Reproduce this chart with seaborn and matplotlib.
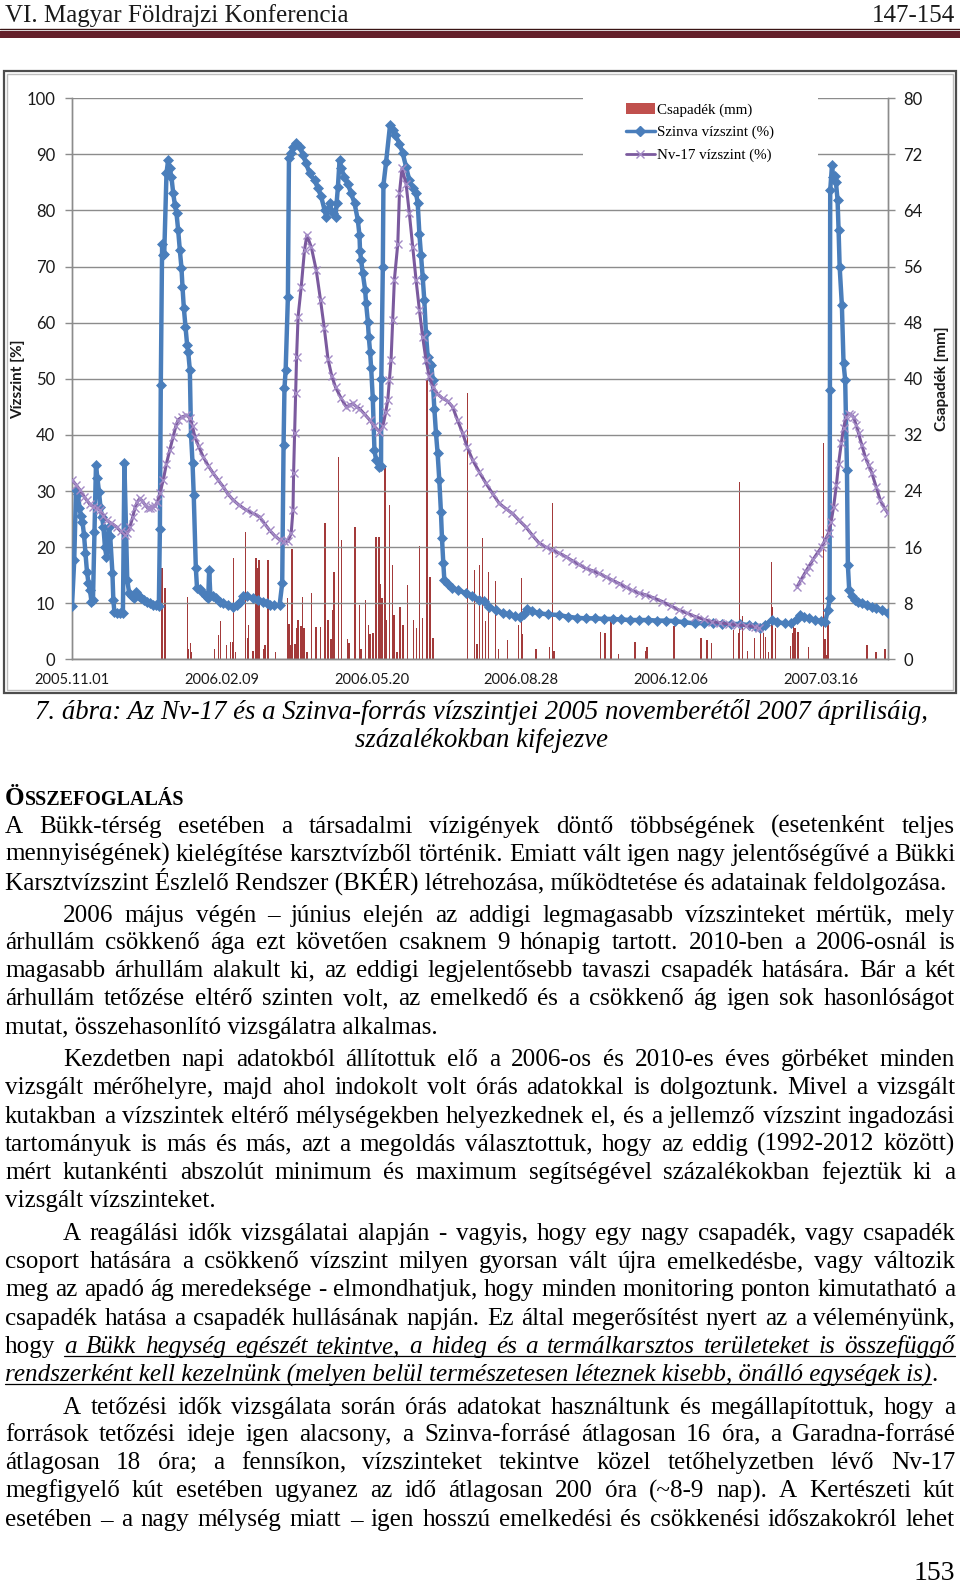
import numpy as np
import pandas as pd
import matplotlib
matplotlib.use("Agg")
import matplotlib.pyplot as plt
import seaborn as sns
from matplotlib.patches import Rectangle, Patch
from matplotlib.lines import Line2D

# ---------------- data (days since 2005.11.01) ----------------
szinva_day = [0, 1.5, 2.7, 4, 5, 6, 7, 8, 9, 10,
              11, 12, 13, 14, 15, 16, 17, 18, 19, 20,
              21, 22, 23, 24.5, 25.5, 27, 27.6, 28.3, 30, 32,
              34, 35, 36.9, 38.2, 40, 41.5, 43, 44.5, 46, 48,
              50, 52, 54, 56, 58, 58.7, 59.3, 60.2, 60.8, 61.6,
              63.1, 64.2, 65.3, 66.4, 67.6, 68.7, 69.8, 70.9, 72, 73.1,
              73.8, 74.7, 75.8, 76.9, 77.6, 78.7, 79.5, 80.5, 81.3, 82.7,
              83.5, 85.3, 87, 89.8, 91, 91.6, 92.4, 94, 96.4, 99,
              101, 104, 107.6, 110, 112, 114.2, 117, 120.9, 124, 127.6,
              130, 132, 135, 138.7, 140.4, 141.3, 141.9, 142.7, 144.2, 144.9,
              146.2, 147.6, 149.8, 152, 154.2, 156.4, 158.7, 162, 164.2, 166.4,
              168.7, 169.8, 172, 174.2, 176, 176.7, 177.6, 178.7, 179.8, 182,
              184.2, 186.4, 188.7, 190.9, 192, 192.4, 193.1, 194.2, 195.8, 196.4,
              197.6, 198.2, 199.1, 199.8, 200.9, 202, 203.1, 204.9, 206.4, 206.6,
              207.6, 208, 209.8, 212.4, 214.2, 216, 218.7, 220.9, 223.1, 225.3,
              227.6, 229.8, 230.9, 232, 233.1, 234.2, 235.3, 236.4, 237.6, 238.7,
              240, 240.9, 242, 243.1, 244.2, 245.3, 246.4, 247.1, 248, 248.7,
              251, 254, 258, 263, 267, 272, 275, 278.7, 283, 287.6,
              292, 296, 299, 302, 304.2, 307, 312, 318, 325, 331,
              337, 343, 349, 355, 361, 367, 373, 379, 385, 391,
              397, 403, 409, 416, 422, 428, 434, 440, 446, 452,
              456, 459.8, 463, 467.6, 471, 476.4, 480, 484, 486.4, 489,
              492, 496, 500, 503.1, 504.9, 506, 506.2, 506.4, 507.6, 508.4,
              509.3, 510.2, 511.3, 512, 512.7, 514.2, 515.3, 516.4, 517.6, 518.2,
              519.1, 521, 523.1, 525, 527.6, 531, 534.2, 537, 540.9, 545]
szinva_val = [9.5, 17.7, 30.2, 29.5, 27, 25.5, 24.5, 22.2, 19, 15.6,
              13.6, 12.3, 10.3, 10.5, 22.7, 34.6, 32.3, 29.9, 27.2, 25.4,
              23.6, 20, 18.3, 23.6, 22, 15.4, 10.6, 8.5, 8.3, 8.2,
              8.3, 35, 14.1, 11.8, 11.3, 11, 12, 11.3, 11, 10.5,
              10.3, 10, 9.7, 9.6, 9.5, 23.2, 48.9, 74.1, 72, 72.2,
              86.6, 89, 87.5, 86, 83.1, 81, 79.5, 76.5, 73, 69.8,
              66.4, 62.6, 59.3, 56, 54.8, 51.6, 40, 35, 29.3, 16.3,
              12.7, 12.5, 12, 11.2, 11, 15.9, 11.5, 11.2, 10.9, 10.3,
              10, 9.6, 9.4, 9.6, 10.3, 11.2, 11.2, 10.9, 10.6, 10.3,
              10, 9.7, 9.6, 9.7, 13.6, 38.2, 48.3, 51.6, 64.6, 89.3,
              90.2, 91.4, 92, 91.4, 89.9, 88.4, 86.6, 85.4, 84, 82.5,
              80.1, 78.9, 81.3, 79.5, 78.9, 81.3, 84.2, 89, 87.5, 86,
              84.8, 83.1, 81.3, 78.3, 75.6, 72.7, 71.2, 68.8, 65.8, 63.5,
              60.2, 57.5, 54.8, 51.9, 46.5, 37.3, 35.5, 34.2, 34.5, 50,
              70, 84.5, 88.7, 95.2, 94.3, 93.5, 91.9, 90.2, 87.8, 85.4,
              84, 83.1, 81.3, 75.9, 72.1, 68.2, 64, 58.1, 53.9, 52.8,
              52.5, 49.8, 44.7, 40.3, 36.7, 32, 26.3, 21.6, 17.1, 14.1,
              13.4, 12.7, 12.3, 11.8, 11.2, 10.6, 10.4, 9.4, 8.8, 8.2,
              8, 7.7, 7.6, 8, 8.9, 8.6, 8.2, 8, 7.9, 7.6,
              7.4, 7.3, 7.3, 7.2, 7.2, 7.1, 7, 7, 7, 6.9,
              6.9, 6.8, 6.6, 6.4, 6.5, 6.4, 6.3, 6.3, 6.3, 6.1,
              5.9, 5.6, 6.2, 7, 6.6, 6.4, 6.4, 7.2, 7.9, 7.6,
              7.3, 7, 6.8, 6.7, 8.8, 10.9, 48, 83.6, 88.1, 86,
              86.1, 85.1, 81.9, 76.5, 70, 63.1, 52.8, 49.8, 33.7, 16.8,
              12.3, 11.2, 10.6, 10.3, 10, 9.7, 9.4, 9.1, 8.8, 8.2]

nv17_day = [0, 3, 5.3, 8, 9.8, 12, 14.2, 16.5, 18.7, 21,
            23.1, 26, 29.8, 32.5, 35.3, 37, 38.7, 40.5, 42, 43.5,
            45.3, 47, 48.9, 50.5, 52, 53.7, 55.3, 57, 58.7, 61,
            63.1, 65.3, 67.6, 69.3, 70.9, 73.5, 76.4, 78.7, 80.5, 82,
            84.5, 87.6, 91, 94.2, 97.5, 100.9, 104, 107.6, 111.5, 116.4,
            121, 125.3, 128.5, 132, 135.5, 138.7, 141.5, 144.2, 146.4, 147.6,
            148, 148.7, 149.4, 150, 151, 153.1, 155.3, 156.9, 159.8, 163.1,
            166, 168.5, 171, 173.5, 176, 179.8, 183.1, 185.5, 187.6, 190,
            192, 195, 198.7, 202, 205.3, 207.6, 209.5, 210.9, 212, 213.1,
            214.2, 215.3, 217.6, 218.7, 220.4, 223.1, 225.3, 227.6, 229.8, 232,
            234.2, 236.4, 238.5, 240.9, 244, 247.6, 251, 254.2, 257.5, 260.9,
            264, 267.6, 272, 276.4, 281, 285.3, 290, 294.2, 298.5, 303.1,
            307.5, 312, 316.5, 320.9, 325.5, 329.8, 334, 338.5, 343.1, 347.5,
            352, 356.5, 360.9, 365.5, 369.8, 374, 378.7, 383, 388, 394.2,
            400, 405.3, 411, 416.4, 422, 427.6, 433, 438.7, 444, 450,
            456.4, 459, 470, 484.2, 487, 490, 492, 495, 498, 500.9,
            503, 505.3, 507, 508.7, 510.5, 512, 513.8, 515.3, 517, 518.7,
            520.5, 522, 523.7, 525.3, 527.5, 529.8, 532, 534.2, 537, 539.8,
            542.5, 545]
nv17_val = [32, 31, 30.2, 29, 28.4, 27.6, 27.2, 27, 26.6, 25.6,
            24.8, 24.3, 23.6, 22.8, 22.2, 22.6, 23.6, 25.3, 26.9, 28,
            28.7, 28.2, 27.5, 27, 27, 27.1, 27.3, 28, 29.6, 32,
            34.9, 37.3, 39.7, 41.5, 42.7, 43.2, 43.5, 43, 41.5, 39.7,
            38, 36.1, 34.5, 33.2, 32, 30.8, 29.5, 28.4, 27.5, 26.6,
            26, 25.4, 24.2, 23, 22, 21.3, 21, 21, 22.5, 26.6,
            33.2, 40.3, 47.4, 53.9, 61.1, 66.4, 73, 75.6, 73.5, 69.4,
            64, 59, 53.5, 50.5, 48.5, 46.5, 45, 45.3, 45.6, 45,
            44.7, 43.8, 42.7, 41.5, 40.6, 41.5, 44, 46.2, 49.8, 53.4,
            60.5, 67.6, 74.1, 83.1, 87.5, 84.8, 79.5, 73.5, 67.6, 62.3,
            57.5, 53.4, 50.5, 48.6, 47.3, 46.5, 46, 45, 42.6, 40.3,
            37.8, 35.5, 33.4, 31.4, 29.5, 27.8, 26.8, 26, 24.8, 23.6,
            22.1, 20.7, 20, 19.5, 18.9, 18.3, 17.6, 16.9, 16.2, 15.8,
            15.3, 14.7, 14.1, 13.5, 12.9, 12.3, 11.8, 11.5, 11, 10.3,
            9.5, 8.8, 8.2, 7.6, 7.1, 6.7, 6.5, 6.3, 6.1, 6,
            5.8, 5.6, np.nan, 12.9, 14.2, 15.6, 16.5, 17.8, 19, 20.1,
            21.3, 22.5, 24.5, 27.2, 31, 34.9, 38.5, 41.2, 43.2, 43.8,
            43.6, 43.2, 41.8, 40.3, 38.2, 36.1, 34.6, 33.2, 30.8, 28.4,
            27, 26]

rain_day = [60, 62, 77, 78, 79, 80, 95, 98, 99, 103,
            106, 107, 108, 109, 116, 117, 118, 121, 123, 124,
            125, 128, 129, 131, 136, 144, 145, 146, 147, 149,
            150, 151, 153, 154, 155, 157, 160, 163, 166, 169,
            171, 173, 174, 175, 178, 180, 184, 185, 189, 192,
            193, 196, 198, 199, 201, 203, 205, 206, 207, 209,
            210, 212, 214, 215, 217, 219, 221, 224, 228, 230,
            232, 234, 237, 239, 241, 264, 269, 270, 271, 272,
            274, 276, 278, 283, 285, 291, 298, 300, 301, 310,
            319, 321, 322, 353, 356, 360, 365, 376, 383, 384,
            402, 420, 424, 427, 442, 445, 446, 448, 451, 456,
            460, 462, 463, 465, 467, 468, 470, 480, 481, 482,
            483, 485, 492, 502, 503, 504, 505, 531, 537, 543]
rain_mm = [13.0, 10.1, 8.9, 1.5, 2.3, 1.0, 1.5, 3.5, 5.4, 2.0,
           2.5, 2.5, 14.4, 1.0, 18.2, 3.0, 4.9, 1.2, 14.4, 13.0,
           14.2, 1.5, 2.0, 14.2, 1.0, 8.7, 5.1, 2.0, 15.8, 2.2,
           4.4, 5.6, 4.8, 8.9, 4.4, 1.0, 9.4, 4.6, 4.6, 19.5,
           5.6, 2.9, 7.0, 12.5, 28.9, 17.0, 2.9, 2.3, 18.9, 7.7,
           1.5, 8.5, 4.9, 3.6, 3.8, 17.5, 17.5, 10.8, 8.7, 27.5,
           5.6, 22.0, 13.4, 6.3, 1.0, 7.5, 4.9, 10.6, 5.6, 4.4,
           16.1, 5.9, 39.8, 11.8, 3.1, 38.0, 12.7, 2.2, 2.2, 13.4,
           17.3, 5.4, 12.5, 11.1, 1.5, 2.7, 4.9, 11.6, 3.6, 1.4,
           1.8, 22.3, 1.2, 3.9, 3.7, 5.6, 0.7, 2.5, 1.2, 1.7,
           4.7, 3.0, 2.8, 2.3, 4.2, 3.7, 25.3, 6.2, 1.2, 3.0,
           4.4, 3.7, 3.2, 1.0, 13.9, 7.5, 4.4, 1.9, 3.7, 5.4,
           4.4, 3.9, 1.7, 30.8, 2.9, 0.6, 5.4, 2.1, 1.0, 1.5]

xtick_days = [0, 100, 200, 300, 400, 500]
xtick_labels = ["2005.11.01", "2006.02.09", "2006.05.20", "2006.08.28", "2006.12.06", "2007.03.16"]
left_ticks = list(range(0, 101, 10))
right_ticks = list(range(0, 81, 8))
legend_labels = ["Csapadék (mm)", "Szinva vízszint (%)", "Nv-17 vízszint (%)"]

header_left = "VI. Magyar Földrajzi Konferencia"
header_right = "147-154"
caption_lines = ["7. ábra: Az Nv-17 és a Szinva-forrás vízszintjei 2005 novemberétől 2007 áprilisáig,",
                 "százalékokban kifejezve"]
body_lines = [
    ("J", 0, "A Bükk-térség esetében a társadalmi vízigények döntő többségének (esetenként teljes"),
    ("J", 0, "mennyiségének) kielégítése karsztvízből történik. Emiatt vált igen nagy jelentőségűvé a Bükki"),
    ("L", 0, "Karsztvízszint Észlelő Rendszer (BKÉR) létrehozása, működtetése és adatainak feldolgozása."),
    ("J", 1, "2006 május végén – június elején az addigi legmagasabb vízszinteket mértük, mely"),
    ("J", 0, "árhullám csökkenő ága ezt követően csaknem 9 hónapig tartott. 2010-ben a 2006-osnál is"),
    ("J", 0, "magasabb árhullám alakult ki, az eddigi legjelentősebb tavaszi csapadék hatására. Bár a két"),
    ("J", 0, "árhullám tetőzése eltérő szinten volt, az emelkedő és a csökkenő ág igen sok hasonlóságot"),
    ("L", 0, "mutat, összehasonlító vizsgálatra alkalmas."),
    ("J", 1, "Kezdetben napi adatokból állítottuk elő a 2006-os és 2010-es éves görbéket minden"),
    ("J", 0, "vizsgált mérőhelyre, majd ahol indokolt volt órás adatokkal is dolgoztunk. Mivel a vizsgált"),
    ("J", 0, "kutakban a vízszintek eltérő mélységekben helyezkednek el, és a jellemző vízszint ingadozási"),
    ("J", 0, "tartományuk is más és más, azt a megoldás választottuk, hogy az eddig (1992-2012 között)"),
    ("J", 0, "mért kutankénti abszolút minimum és maximum segítségével százalékokban fejeztük ki a"),
    ("L", 0, "vizsgált vízszinteket."),
    ("J", 1, "A reagálási idők vizsgálatai alapján - vagyis, hogy egy nagy csapadék, vagy csapadék"),
    ("J", 0, "csoport hatására a csökkenő vízszint milyen gyorsan vált újra emelkedésbe, vagy változik"),
    ("J", 0, "meg az apadó ág meredeksége - elmondhatjuk, hogy minden monitoring ponton kimutatható a"),
    ("J", 0, "csapadék hatása a csapadék hullásának napján. Ez által megerősítést nyert az a véleményünk,"),
    ("M1", 0, "hogy|a Bükk hegység egészét tekintve, a hideg és a termálkarsztos területeket is összefüggő"),
    ("M2", 0, "rendszerként kell kezelnünk (melyen belül természetesen léteznek kisebb, önálló egységek is)|."),
    ("J", 1, "A tetőzési idők vizsgálata során órás adatokat használtunk és megállapítottuk, hogy a"),
    ("J", 0, "források tetőzési ideje igen alacsony, a Szinva-forrásé átlagosan 16 óra, a Garadna-forrásé"),
    ("J", 0, "átlagosan 18 óra; a fennsíkon, vízszinteket tekintve közel tetőhelyzetben lévő Nv-17"),
    ("J", 0, "megfigyelő kút esetében ugyanez az idő átlagosan 200 óra (~8-9 nap). A Kertészeti kút"),
    ("J", 0, "esetében – a nagy mélység miatt – igen hosszú emelkedési és csökkenési időszakokról lehet"),
]
page_number = "153"

# ---------------- figure ----------------
W, H = 960, 1584
sns.set_theme(style="white")
plt.rcParams["font.family"] = ["Lato", "DejaVu Sans"]
plt.rcParams["text.color"] = "black"
SERIF = "Liberation Serif"
INK = "black"

fig = plt.figure(figsize=(W / 100, H / 100), dpi=100)
fig.patch.set_facecolor("white")


def fx(x):
    return x / W


def fy(y):
    return 1 - y / H


BLUE = "#4a7ebb"
PURPLE = "#7b5a9e"
LAV = "#a48bc6"
RAIN = "#a33a3a"
GRID = "#8c8c8c"

# chart frame (double border)
fig.add_artist(Rectangle((fx(4), fy(693)), 952 / W, 622 / H, fill=False,
                         edgecolor="#4d4d4d", lw=1.6, transform=fig.transFigure, zorder=0))
fig.add_artist(Rectangle((fx(7), fy(690)), 946 / W, 616 / H, fill=False,
                         edgecolor="#bdbdbd", lw=1.0, transform=fig.transFigure, zorder=0))

y0px, y100px = 659.3, 98.3
ax = fig.add_axes([fx(72), fy(y0px), (888 - 72) / W, (y0px - y100px) / H])
ax2 = ax.twinx()
ax.set_zorder(2)
ax2.set_zorder(1)
ax.patch.set_visible(False)

# precipitation bars (secondary axis)
ax2.bar(rain_day, rain_mm, width=0.9, color=RAIN, linewidth=0)

# lines
df_s = pd.DataFrame({"day": szinva_day, "val": szinva_val})
sns.lineplot(data=df_s, x="day", y="val", ax=ax, color=BLUE, lw=3.2, marker="D",
             markersize=5.5, mec=BLUE, mew=0.5, estimator=None, sort=False, legend=False, zorder=3)

df_n = pd.DataFrame({"day": nv17_day, "val": nv17_val})
df_n["seg"] = df_n["val"].isna().cumsum()
df_n = df_n.dropna()
sns.lineplot(data=df_n, x="day", y="val", units="seg", ax=ax, color=PURPLE, lw=2.2, marker="x",
             markersize=6, mec=LAV, mew=1.0, estimator=None, sort=False, legend=False, zorder=4)

ax.set_xlim(0, 545)
ax.set_ylim(0, 100)
ax2.set_ylim(0, 80)
ax.set_yticks(left_ticks)
ax2.set_yticks(right_ticks)
ax.set_xticks(xtick_days)
ax.set_xticklabels(xtick_labels)
ax.set_xlabel("")
ax.set_ylabel("")
ax2.set_ylabel("")
ax.yaxis.grid(True, color=GRID, lw=1.0)
ax.xaxis.grid(False)
ax2.grid(False)
for a in (ax, ax2):
    a.spines["top"].set_visible(False)
    for s in ("left", "right", "bottom"):
        a.spines[s].set_color(GRID)
        a.spines[s].set_linewidth(1.0)
ax.tick_params(axis="y", direction="out", length=5, width=1, color=GRID, labelsize=12, pad=7,
               labelcolor="#1a1a1a")
ax2.tick_params(axis="y", direction="out", length=5, width=1, color=GRID, labelsize=12, pad=6,
                labelcolor="#1a1a1a")
ax.tick_params(axis="x", direction="out", length=4, width=1, color=GRID, labelsize=10.5, pad=6,
               labelcolor="#1a1a1a")

fig.text(fx(18), fy(379), "Vízszint [%]", rotation=90, ha="center", va="center",
         fontsize=11, fontweight="bold", color="#1a1a1a")
fig.text(fx(942), fy(379), "Csapadék [mm]", rotation=90, ha="center", va="center",
         fontsize=11, fontweight="bold", color="#1a1a1a")

# legend (white box hides grid lines)
fig.add_artist(Rectangle((fx(583), fy(172)), (818 - 583) / W, (172 - 82) / H, facecolor="white",
                         edgecolor="none", transform=fig.transFigure, zorder=3))
handles = [Patch(facecolor="#c0504d", edgecolor="none"),
           Line2D([], [], color=BLUE, lw=2.5, marker="D", ms=5, mec=BLUE),
           Line2D([], [], color=PURPLE, lw=2, marker="x", ms=6, mec=LAV, mew=1)]
leg = fig.legend(handles, legend_labels, loc="upper left", bbox_to_anchor=(fx(626), fy(103)),
                 frameon=False, prop={"family": SERIF, "size": 10.8}, handlelength=1.9,
                 handletextpad=0.15, labelspacing=0.6, borderpad=0, borderaxespad=0)
for t in leg.get_texts():
    t.set_color(INK)
leg.set_zorder(6)

# ---------------- page text ----------------
R = fig.canvas.get_renderer()


def tw(s, **kw):
    t = fig.text(0, 0, s, **kw)
    w = t.get_window_extent(renderer=R).width
    t.remove()
    return w


fs_head = 10 * 344 / tw(header_left, family=SERIF, size=10)
fs_body = 10 * 943 / tw(body_lines[2][2], family=SERIF, size=10)
fs_cap = 10 * 897 / tw(caption_lines[0], family=SERIF, size=10, style="italic")

# header
fig.text(fx(5), fy(22), header_left, family=SERIF, size=fs_head, ha="left", va="baseline", color="#1a1a1a")
fig.text(fx(955), fy(22), header_right, family=SERIF, size=fs_head, ha="right", va="baseline", color="#1a1a1a")
fig.add_artist(Line2D([fx(0), fx(960)], [fy(29), fy(29)], color="#3a1515", lw=1.0, transform=fig.transFigure))
fig.add_artist(Rectangle((fx(0), fy(38)), 1, 7 / H, facecolor="#64202a", edgecolor="none",
                         transform=fig.transFigure))

# caption
fig.text(fx(481), fy(719), caption_lines[0], family=SERIF, size=fs_cap, style="italic",
         ha="center", va="baseline", color=INK)
fig.text(fx(481), fy(747), caption_lines[1], family=SERIF, size=fs_cap, style="italic",
         ha="center", va="baseline", color=INK)

# heading in small caps
w_O = tw("Ö", family=SERIF, size=fs_body, weight="bold")
fig.text(fx(5), fy(805), "Ö", family=SERIF, size=fs_body, weight="bold", ha="left", va="baseline", color=INK)
fig.text(fx(5 + w_O), fy(805), "SSZEFOGLALÁS", family=SERIF, size=fs_body * 0.8, weight="bold",
         ha="left", va="baseline", color=INK)

line_centers_main = [818, 846, 874, 906, 933, 961, 989, 1017, 1049, 1077, 1105, 1133, 1161, 1189,
                     1221, 1249, 1277, 1305, 1333, 1361, 1393, 1420, 1448, 1476, 1504]
X0, X1, XIND = 5, 955, 63
space_w = tw("a a", family=SERIF, size=fs_body) - tw("aa", family=SERIF, size=fs_body)


def place_words(items, yb, x0, x1, justify):
    widths = [tw(w, family=SERIF, size=fs_body, style="italic" if it else "normal") for w, it, ul in items]
    n = len(items)
    gap = (x1 - x0 - sum(widths)) / (n - 1) if (justify and n > 1) else space_w
    x = x0
    spans = []
    for (w, it, ul), wd in zip(items, widths):
        fig.text(fx(x), fy(yb), w, family=SERIF, size=fs_body, style="italic" if it else "normal",
                 ha="left", va="baseline", color=INK)
        if ul:
            if spans and spans[-1][2]:
                spans[-1][1] = x + wd
            else:
                spans.append([x, x + wd, True])
        else:
            if spans:
                spans[-1][2] = False
        x += wd + gap
    for a, b, _ in spans:
        fig.add_artist(Line2D([fx(a), fx(b)], [fy(yb + 3), fy(yb + 3)], color=INK, lw=0.9,
                              transform=fig.transFigure))
    return x


for (kind, indent, txt), yc in zip(body_lines, line_centers_main):
    yb = yc * 1.0105 + 6
    x0 = XIND if indent else X0
    if kind == "J":
        place_words([(w, False, False) for w in txt.split()], yb, x0, X1, True)
    elif kind == "L":
        fig.text(fx(x0), fy(yb), txt, family=SERIF, size=fs_body, ha="left", va="baseline", color=INK)
    elif kind == "M1":
        a, b = txt.split("|")
        items = [(a, False, False)] + [(w, True, True) for w in b.split()]
        place_words(items, yb, x0, X1, True)
    elif kind == "M2":
        a, b = txt.split("|")
        wa = tw(a, family=SERIF, size=fs_body, style="italic")
        fig.text(fx(x0), fy(yb), a, family=SERIF, size=fs_body, style="italic", ha="left",
                 va="baseline", color=INK)
        fig.add_artist(Line2D([fx(x0), fx(x0 + wa)], [fy(yb + 3), fy(yb + 3)], color=INK, lw=0.9,
                              transform=fig.transFigure))
        fig.text(fx(x0 + wa), fy(yb), b, family=SERIF, size=fs_body, ha="left", va="baseline", color=INK)

fig.text(fx(955), fy(1580), page_number, family=SERIF, size=fs_body * 1.1, ha="right", va="baseline",
         color=INK)

fig.savefig("out.png", dpi=100)
